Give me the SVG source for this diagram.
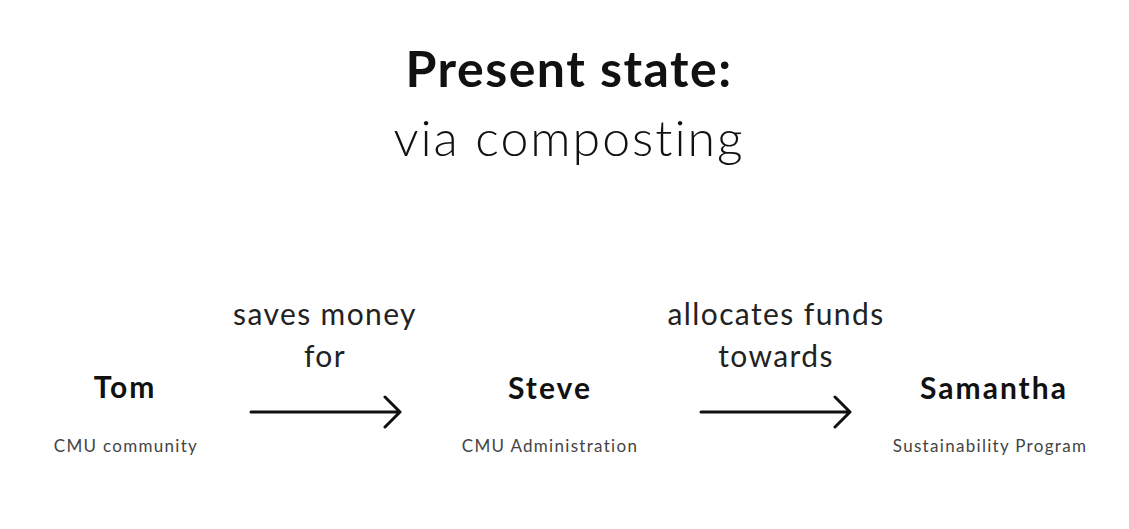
<svg xmlns="http://www.w3.org/2000/svg" width="1129" height="529" viewBox="0 0 1129 529">
<style>
text{font-family:Lato,"Noto Sans","Liberation Sans",sans-serif;text-anchor:middle}
.title{font-size:50px;font-weight:bold;fill:#111;letter-spacing:1.5px}
.sub{font-size:50px;font-weight:300;fill:#111;letter-spacing:2px}
.name{font-size:30px;font-weight:bold;fill:#111;letter-spacing:2px}
.role{font-size:17px;fill:#444;letter-spacing:1.3px}
.lbl{font-size:30px;font-weight:normal;fill:#222;letter-spacing:1.4px}
.arrow{stroke:#111;stroke-width:3;fill:none;stroke-linecap:round;stroke-linejoin:round}
</style>
<rect width="1129" height="529" fill="#fff"/>
<g id="title">
<text class="title" x="569" y="87">Present state:</text>
<text class="sub" x="569" y="156">via composting</text>
</g>
<g id="tom">
<text class="name" x="125" y="398">Tom</text>
<text class="role" x="126" y="452">CMU community</text>
</g>
<g id="steve">
<text class="name" x="550" y="399">Steve</text>
<text class="role" x="550" y="452">CMU Administration</text>
</g>
<g id="samantha">
<text class="name" x="994" y="399">Samantha</text>
<text class="role" x="990" y="452">Sustainability Program</text>
</g>
<g id="connectors">
<path class="arrow" d="M251 412 H400 M385 397 L400 412 L385 427"/>
<text class="lbl" x="325" y="325">saves money</text>
<text class="lbl" x="325" y="367">for</text>
<path class="arrow" d="M701 412 H850 M835 397 L850 412 L835 427"/>
<text class="lbl" x="776" y="325">allocates funds</text>
<text class="lbl" x="776" y="367">towards</text>
</g>
</svg>
